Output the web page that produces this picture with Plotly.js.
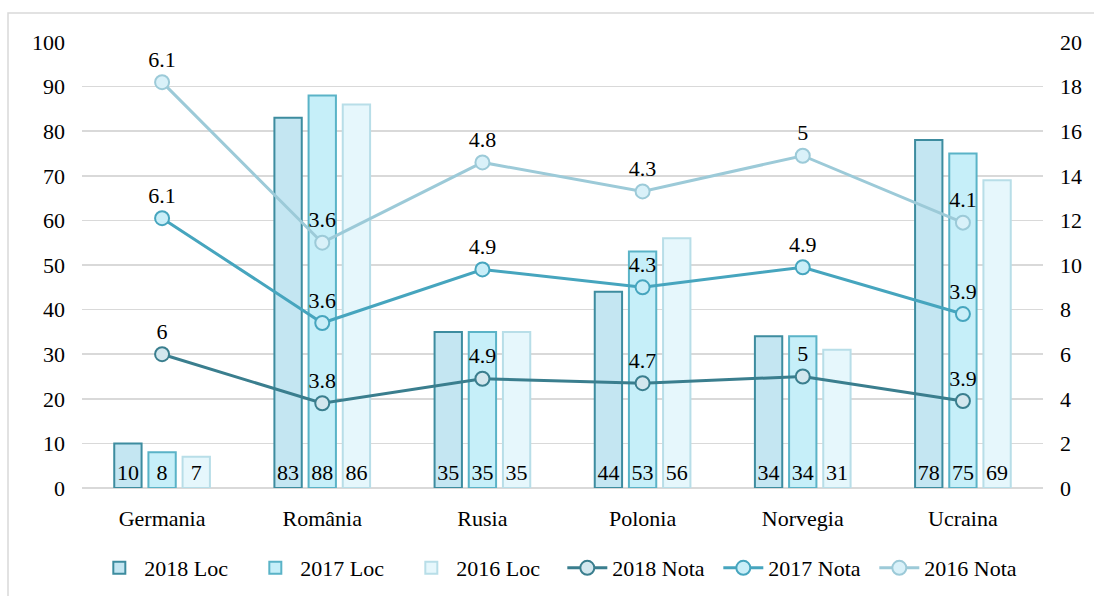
<!DOCTYPE html>
<html>
<head>
<meta charset="utf-8">
<script src="https://cdn.plot.ly/plotly-3.0.1.min.js"></script>
<style>
  html, body { margin: 0; padding: 0; background: white; }
  #chart { width: 1094px; height: 596px; }
</style>
</head>
<body>
<div id="chart"></div>
<script>
// chart data
const countries = ['Germania', 'România', 'Rusia', 'Polonia', 'Norvegia', 'Ucraina'];

const loc2018 = [10, 83, 35, 44, 34, 78];
const loc2017 = [8, 88, 35, 53, 34, 75];
const loc2016 = [7, 86, 35, 56, 31, 69];

const nota2018 = [6, 3.8, 4.9, 4.7, 5, 3.9];
const nota2017 = [6.1, 3.6, 4.9, 4.3, 4.9, 3.9];
const nota2016 = [6.1, 3.6, 4.8, 4.3, 5, 4.1];

const font = 'Liberation Serif';

function barTrace(name, values, fill, border) {
    return {
        type: 'bar',
        name: name,
        x: countries,
        y: values,
        text: values.map(String),
        textposition: 'inside',
        insidetextanchor: 'start',
        textangle: 0,
        textfont: { family: font, size: 22, color: '#000' },
        constraintext: 'none',
        cliponaxis: false,
        marker: {
            color: fill,
            line: { color: border, width: 2 }
        },
        hoverinfo: 'skip'
    };
}

// the notes are stacked on the right axis (as in the original)
function lineTrace(name, values, lineColor, markerFill) {
    return {
        type: 'scatter',
        name: name,
        x: countries,
        y: values,
        yaxis: 'y2',
        stackgroup: 'nota',
        fill: 'none',
        mode: 'lines+markers+text',
        text: values.map(String),
        textposition: 'top center',
        textfont: { family: font, size: 22, color: '#000' },
        line: { color: lineColor, width: 3 },
        marker: {
            symbol: 'circle',
            size: 14,
            color: markerFill,
            line: { color: lineColor, width: 2 }
        },
        cliponaxis: false,
        hoverinfo: 'skip'
    };
}

const traces = [
    barTrace('2018 Loc', loc2018, '#c4e6f2', '#3d8c9f'),
    barTrace('2017 Loc', loc2017, '#c6eff9', '#5ab3c7'),
    barTrace('2016 Loc', loc2016, '#e6f7fc', '#b8dee8'),
    lineTrace('2018 Nota', nota2018, '#3a7e8e', '#d3e7ee'),
    lineTrace('2017 Nota', nota2017, '#46a5be', '#c9eef8'),
    lineTrace('2016 Nota', nota2016, '#9ccad8', '#d9f1f9')
];

const tickFont = { family: font, size: 22, color: '#000' };

const layout = {
    width: 1094,
    height: 596,
    font: { family: font },
    barmode: 'group',
    bargap: 0.36,
    bargroupgap: 0.2,
    showlegend: true,
    legend: {
        orientation: 'h',
        xref: 'container',
        yref: 'container',
        x: 0.514,
        xanchor: 'center',
        y: 0.047,
        yanchor: 'middle',
        font: { family: font, size: 22, color: '#000' },
        traceorder: 'normal',
        itemwidth: 40,
        entrywidth: 101,
        entrywidthmode: 'pixels'
    },
    xaxis: {
        type: 'category',
        showgrid: false,
        showline: false,
        ticks: '',
        ticklabelstandoff: 15,
        tickfont: tickFont
    },
    yaxis: {
        range: [0, 100],
        dtick: 10,
        showgrid: true,
        gridcolor: '#d9d9d9',
        gridwidth: 1.5,
        zeroline: true,
        zerolinecolor: '#d9d9d9',
        zerolinewidth: 1.5,
        ticks: '',
        ticklabelstandoff: 16,
        tickfont: tickFont
    },
    yaxis2: {
        range: [0, 20],
        dtick: 2,
        overlaying: 'y',
        side: 'right',
        showgrid: false,
        zeroline: false,
        ticks: '',
        ticklabelstandoff: 16,
        tickfont: tickFont
    },
    shapes: [{
        type: 'rect',
        xref: 'paper',
        yref: 'paper',
        x0: -0.077,
        x1: 1.2,
        y0: -0.4,
        y1: 1.065,
        line: { color: '#d9d9d9', width: 1.5 },
        layer: 'below'
    }],
    margin: { l: 82, r: 51, t: 42, b: 108 },
    paper_bgcolor: 'white',
    plot_bgcolor: 'white'
};

Plotly.newPlot('chart', traces, layout, { displayModeBar: false, staticPlot: true });
</script>
</body>
</html>
